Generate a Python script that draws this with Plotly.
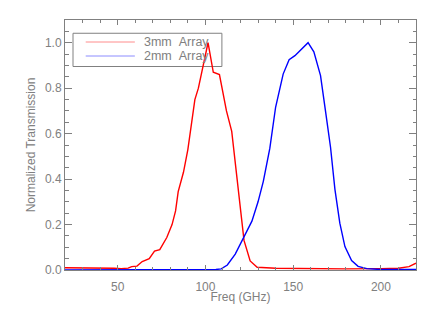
import plotly.graph_objects as go

red_x = [20, 30, 40, 48, 52, 56, 58, 61, 64, 68, 71, 74, 78, 81, 83, 84.5, 87.5, 90, 94, 96,
         101.5, 104.5, 108, 112, 115, 118, 122, 125.5, 129.5, 140, 160, 180, 200, 210, 216, 220]
red_y = [0.01, 0.01, 0.01, 0.008, 0.006, 0.008, 0.015, 0.017, 0.037, 0.05, 0.083, 0.09, 0.143,
         0.2, 0.26, 0.345, 0.43, 0.53, 0.75, 0.8, 1.0, 0.87, 0.86, 0.7, 0.61, 0.4, 0.13, 0.04,
         0.012, 0.008, 0.006, 0.005, 0.006, 0.008, 0.015, 0.03]

blue_x = [20, 60, 100, 106, 109, 112.5, 117, 121.5, 126.5, 130, 133, 136.7, 140, 144.3, 147.7,
          151, 158.5, 161.8, 165.6, 168.6, 171.3, 173.8, 176.6, 179.5, 183.3, 187, 192, 200, 210, 220]
blue_y = [0, 0, 0, 0.002, 0.005, 0.022, 0.07, 0.14, 0.215, 0.3, 0.39, 0.535, 0.716, 0.862, 0.925,
          0.943, 1.0, 0.96, 0.855, 0.69, 0.54, 0.355, 0.206, 0.103, 0.042, 0.016, 0.006, 0.002, 0.001, 0.002]

names = ["3mm\u00a0\u00a0Array", "2mm\u00a0\u00a0Array"]
legend_colors = ["#ff8c8c", "#8c8cff"]

gray = "#808080"
fam = "Liberation Sans, Arial, sans-serif"
font = dict(family=fam, size=12, color=gray)

fig = go.Figure()
fig.add_trace(go.Scatter(x=red_x, y=red_y, mode="lines", line=dict(color="#ff0000", width=1.4),
                         showlegend=False))
fig.add_trace(go.Scatter(x=blue_x, y=blue_y, mode="lines", line=dict(color="#0000ff", width=1.4),
                         showlegend=False))

axis_common = dict(showgrid=False, zeroline=False, showline=True, linecolor=gray, linewidth=1,
                   mirror="ticks", ticks="inside", tickcolor=gray, tickfont=font,
                   automargin=False)

fig.update_xaxes(range=[20, 220], tickvals=[50, 100, 150, 200], ticklen=5,
                 ticklabelstandoff=6,
                 minor=dict(dtick=10, tick0=0, ticks="inside", ticklen=3, tickcolor=gray),
                 title=dict(text="Freq (GHz)", font=font, standoff=2), **axis_common)
fig.update_yaxes(range=[0, 1.1], tickvals=[0, 0.2, 0.4, 0.6, 0.8, 1.0], tickformat=".1f",
                 ticklen=7,
                 minor=dict(dtick=0.05, tick0=0, ticks="inside", ticklen=3.5, tickcolor=gray),
                 title=dict(text="Normalized Transmission", font=font, standoff=6),
                 **axis_common)

# manual legend box (paper coordinates)
fig.add_shape(type="rect", xref="paper", yref="paper", x0=0.0228, x1=0.447, y0=0.814, y1=0.947,
              line=dict(color=gray, width=1), fillcolor="white", layer="below")
for i, (nm, col) in enumerate(zip(names, legend_colors)):
    yy = 0.912 - i * 0.056
    fig.add_shape(type="line", xref="paper", yref="paper", x0=0.059, x1=0.199, y0=yy, y1=yy,
                  line=dict(color=col, width=1))
    fig.add_annotation(xref="paper", yref="paper", x=0.222, y=yy, text=nm, showarrow=False,
                       xanchor="left", yanchor="middle", borderpad=0,
                       font=dict(family=fam, size=12.5, color=gray))

fig.update_layout(
    width=420, height=296,
    margin=dict(l=57, r=12, t=12, b=34, autoexpand=False),
    paper_bgcolor="white", plot_bgcolor="white",
    font=font, showlegend=False,
)

fig.write_html("out.html")
